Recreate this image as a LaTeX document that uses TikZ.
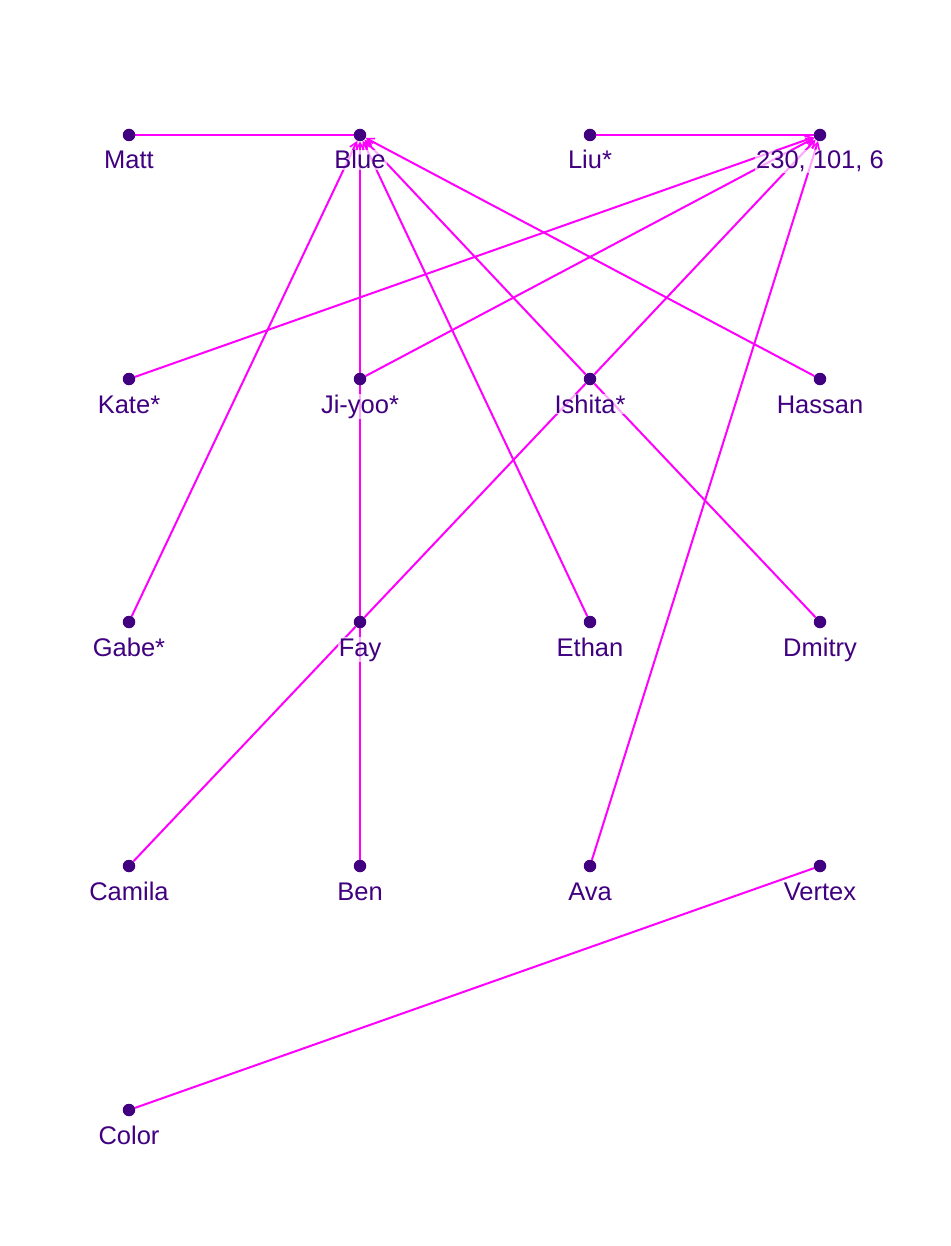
\documentclass[tikz,border=0pt]{standalone}
\usepackage{fontspec}
\setmainfont{Liberation Sans}
\usetikzlibrary{arrows.meta}
\pgfdeclarelayer{background}
\pgfsetlayers{background,main}
\definecolor{ink}{HTML}{400080}
\definecolor{edgec}{HTML}{FF00FF}
\tikzset{
  dot/.style={circle,fill=ink,draw=none,minimum size=12.5pt,inner sep=0pt},
  lbl/.style={font=\fontsize{25.5}{28}\selectfont,text=ink,fill=white,fill opacity=0.65,text opacity=1,inner sep=1pt,anchor=base},
  edge/.style={draw=edgec,line width=2pt},
  arr/.style={edge,-{Straight Barb[length=7pt,width=8pt,line width=1.6pt]}},
}
\newcommand{\vtx}[4]{%
  \node[dot] (#1) at (#2pt,-#3pt) {};
  \node[lbl] (#1-l) at (#2pt,-#3pt-34pt) {#4};
}
\begin{document}
\begin{tikzpicture}
\useasboundingbox (0,0) rectangle (950pt,-1246pt);
\vtx{matt}{129}{135}{Matt}
\vtx{blue}{360}{135}{Blue}
\vtx{liu}{590}{135}{Liu*}
\vtx{rgb}{820}{135}{230, 101, 6}
\vtx{kate}{129}{379}{Kate*}
\vtx{jiyoo}{360}{379}{Ji-yoo*}
\vtx{ishita}{590}{379}{Ishita*}
\vtx{hassan}{820}{379}{Hassan}
\vtx{gabe}{129}{622}{Gabe*}
\vtx{fay}{360}{622}{Fay}
\vtx{ethan}{590}{622}{Ethan}
\vtx{dmitry}{820}{622}{Dmitry}
\vtx{camila}{129}{866}{Camila}
\vtx{ben}{360}{866}{Ben}
\vtx{ava}{590}{866}{Ava}
\vtx{vertex}{820}{866}{Vertex}
\vtx{color}{129}{1110}{Color}
\begin{pgfonlayer}{background}
\draw[edge] (matt) -- (blue);
\draw[edge] (liu) -- (rgb);
\draw[arr] (gabe) -- (blue);
\draw[arr] (jiyoo) -- (blue);
\draw[arr] (ethan) -- (blue);
\draw[arr] (ishita) -- (blue);
\draw[arr] (hassan) -- (blue);
\draw[arr] (kate) -- (rgb);
\draw[arr] (jiyoo) -- (rgb);
\draw[arr] (ishita) -- (rgb);
\draw[arr] (ava) -- (rgb);
\draw[edge] (jiyoo) -- (fay);
\draw[edge] (ishita) -- (fay);
\draw[edge] (fay) -- (camila);
\draw[edge] (ishita) -- (dmitry);
\draw[edge] (fay) -- (ben);
\draw[edge] (color) -- (vertex);
\end{pgfonlayer}
\end{tikzpicture}
\end{document}
